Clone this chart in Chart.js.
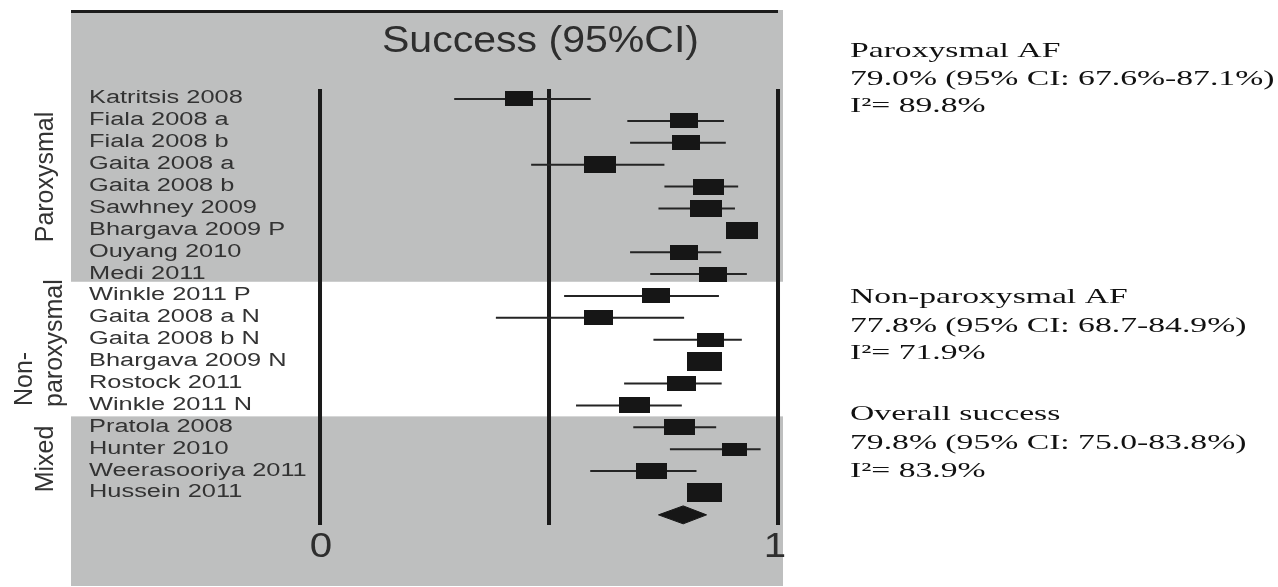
<!DOCTYPE html>
<html>
<head>
<meta charset="utf-8">
<script src="https://cdn.jsdelivr.net/npm/chart.js@4.4.1/dist/chart.umd.min.js"></script>
<style>
html,body{margin:0;padding:0;background:#ffffff;}
#wrap{width:1278px;height:587px;}
</style>
</head>
<body>
<div id="wrap"><canvas id="c" width="1278" height="587"></canvas></div>
<script>
// ---------------- data ----------------
const studies = [
  'Katritsis 2008','Fiala 2008 a','Fiala 2008 b','Gaita 2008 a','Gaita 2008 b',
  'Sawhney 2009','Bhargava 2009 P','Ouyang 2010','Medi 2011',
  'Winkle 2011 P','Gaita 2008 a N','Gaita 2008 b N','Bhargava 2009 N','Rostock 2011','Winkle 2011 N',
  'Pratola 2008','Hunter 2010','Weerasooriya 2011','Hussein 2011'
];
const estimates = [0.434,0.795,0.800,0.611,0.848,0.842,0.922,0.795,0.857,
                   0.733,0.609,0.852,0.839,0.790,0.686,
                   0.786,0.904,0.724,0.839];
const ciLower   = [0.293,0.671,0.677,0.461,0.752,0.739,0.897,0.677,0.721,
                   0.533,0.384,0.728,0.814,0.664,0.559,
                   0.684,0.764,0.590,0.814];
const ciUpper   = [0.591,0.882,0.886,0.752,0.913,0.906,0.947,0.876,0.932,
                   0.871,0.795,0.921,0.864,0.877,0.790,
                   0.865,0.962,0.822,0.864];
const weights   = [0.92,0.93,0.92,1.06,1.03,1.07,1.05,0.93,0.92,
                   0.93,0.97,0.91,1.17,0.96,1.03,
                   1.03,0.83,1.03,1.17];
const pooledEstimate = 0.793;
const pooledCI = [0.739, 0.844];
const referenceLines = [0, 0.5, 1];
const xTickValues = [0, 1];
const xTickLabels = ['0', '1'];
const groupNames = ['Paroxysmal', 'Non-|paroxysmal', 'Mixed'];
const groupRows = [[0, 8], [9, 14], [15, 18]];
const chartTitle = 'Success (95%CI)';
const summaryParoxysmal = ['Paroxysmal AF', '79.0% (95% CI: 67.6%-87.1%)', 'I\u00B2= 89.8%'];
const summaryNonParoxysmal = ['Non-paroxysmal AF', '77.8% (95% CI: 68.7-84.9%)', 'I\u00B2= 71.9%'];
const summaryOverall = ['Overall success', '79.8% (95% CI: 75.0-83.8%)', 'I\u00B2= 83.9%'];

// ---------------- derived structures ----------------
const diamondRow = studies.length;
const boxData = estimates.map((v, i) => ({x: v, y: i}));
const ciData = [];
ciLower.forEach((lo, i) => { ciData.push({x: lo, y: i}, {x: ciUpper[i], y: i}, {x: null, y: null}); });
const refData = [];
referenceLines.forEach(v => { refData.push({x: v, y: -0.46}, {x: v, y: diamondRow + 0.46}, {x: null, y: null}); });
const DH = 0.41;
const diamondData = [
  {x: pooledCI[0], y: diamondRow}, {x: pooledEstimate, y: diamondRow - DH},
  {x: pooledCI[1], y: diamondRow}, {x: pooledEstimate, y: diamondRow + DH},
  {x: pooledCI[0], y: diamondRow}
];
const BOX_W = 30, BOX_RATIO = 0.53;
const boxStyles = weights.map(w => {
  const cv = document.createElement('canvas');
  cv.width = Math.round(BOX_W * w);
  cv.height = Math.round(BOX_W * w * BOX_RATIO);
  const g = cv.getContext('2d');
  g.fillStyle = '#161616';
  g.fillRect(0, 0, cv.width, cv.height);
  return cv;
});

function stretchedText(ctx, txt, x, y, sx, align) {
  ctx.save();
  ctx.translate(x, y);
  ctx.scale(sx, 1);
  ctx.textAlign = align || 'left';
  ctx.fillText(txt, 0, 0);
  ctx.restore();
}

const backgroundPlugin = {
  id: 'panel',
  beforeDatasetsDraw(chart) {
    const {ctx, chartArea: a, scales: {x, y}} = chart;
    ctx.save();
    ctx.fillStyle = '#bebfbf';
    ctx.fillRect(a.left, a.top, a.right - a.left, a.bottom - a.top);
    const t = y.getPixelForValue(groupRows[1][0] - 0.65);
    const b = y.getPixelForValue(groupRows[1][1] + 0.5);
    ctx.fillStyle = '#ffffff';
    ctx.fillRect(a.left, t, a.right - a.left, b - t);
    // top border line
    ctx.strokeStyle = '#1c1c1c';
    ctx.lineWidth = 3;
    ctx.beginPath();
    ctx.moveTo(a.left, a.top + 1.5);
    ctx.lineTo(x.getPixelForValue(1), a.top + 1.5);
    ctx.stroke();
    ctx.restore();
  },
  afterDraw(chart) {
    const {ctx, chartArea: a, scales: {x, y}} = chart;
    ctx.save();
    ctx.textBaseline = 'alphabetic';
    // title
    ctx.fillStyle = '#2e2e2e';
    ctx.font = '36px "Liberation Sans", Arial, sans-serif';
    stretchedText(ctx, chartTitle, 382, 52, 1.14, 'left');
    // x tick labels
    ctx.font = '35px "Liberation Sans", Arial, sans-serif';
    xTickValues.forEach((v, i) => {
      stretchedText(ctx, xTickLabels[i], x.getPixelForValue(v) + (v === 1 ? -3 : 1), 557, 1.15, 'center');
    });
    // study labels
    ctx.fillStyle = '#333333';
    ctx.font = '18px "Liberation Sans", Arial, sans-serif';
    studies.forEach((s, i) => {
      stretchedText(ctx, s, a.left + 18, y.getPixelForValue(i) + 4.5, 1.41, 'left');
    });
    // group labels (rotated)
    ctx.font = '25px "Liberation Sans", Arial, sans-serif';
    const rot = (txt, bx, by, align) => {
      ctx.save();
      ctx.translate(bx, by);
      ctx.rotate(-Math.PI / 2);
      ctx.textAlign = align;
      ctx.fillText(txt, 0, 0);
      ctx.restore();
    };
    rot(groupNames[0], 53, 177, 'center');
    const np = groupNames[1].split('|');
    rot(np[0], 32, 406, 'left');
    rot(np[1], 62, 407, 'left');
    rot(groupNames[2], 53, 459, 'center');
    // summaries on right
    ctx.fillStyle = '#111111';
    ctx.font = '22px "Liberation Serif", "Times New Roman", serif';
    const blocks = [[summaryParoxysmal, [57, 84.5, 112]], [summaryNonParoxysmal, [303, 331.5, 358.5]], [summaryOverall, [420, 448.5, 477]]];
    blocks.forEach(([lines, ys]) => {
      lines.forEach((l, k) => stretchedText(ctx, l, 850, ys[k], 1.53, 'left'));
    });
    ctx.restore();
  }
};

new Chart(document.getElementById('c'), {
  type: 'scatter',
  data: {
    datasets: [
      {
        label: 'Study estimate',
        data: boxData,
        pointStyle: boxStyles,
        pointRadius: 6,
        showLine: false,
        order: 0
      },
      {
        label: 'Pooled',
        data: diamondData,
        showLine: true,
        fill: 'shape',
        backgroundColor: '#161616',
        borderColor: '#161616',
        borderWidth: 1,
        pointRadius: 0,
        order: 1
      },
      {
        label: '95% CI',
        data: ciData,
        showLine: true,
        spanGaps: false,
        borderColor: '#242424',
        borderWidth: 2,
        pointRadius: 0,
        order: 2
      },
      {
        label: 'Reference',
        data: refData,
        showLine: true,
        spanGaps: false,
        borderColor: '#1a1a1a',
        borderWidth: 4,
        pointRadius: 0,
        order: 3
      }
    ]
  },
  options: {
    responsive: false,
    devicePixelRatio: 1,
    animation: false,
    events: [],
    layout: {autoPadding: false, padding: {left: 71, right: 495, top: 10, bottom: 1}},
    plugins: {legend: {display: false}, tooltip: {enabled: false}, title: {display: false}},
    scales: {
      x: {type: 'linear', display: false, min: -0.5437, max: 1.0109},
      y: {type: 'linear', display: false, reverse: true, min: -4.066, max: 22.25}
    }
  },
  plugins: [backgroundPlugin]
});
</script>
</body>
</html>
